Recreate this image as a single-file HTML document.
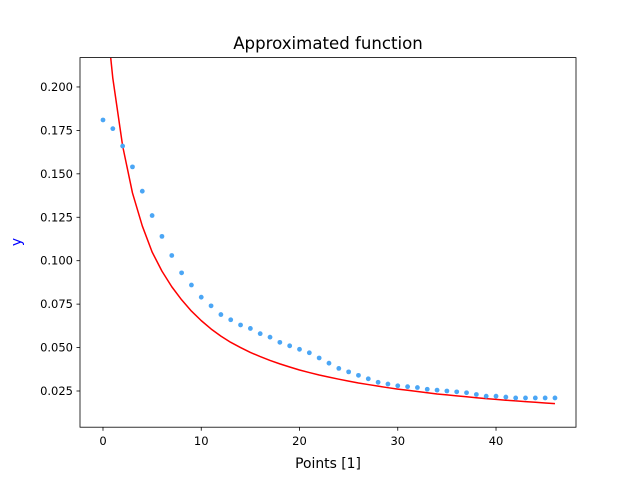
<!DOCTYPE html>
<html><head><meta charset="utf-8"><style>
body{margin:0;background:#fff;}
svg text{font-family:"DejaVu Sans","Liberation Sans",sans-serif;}
</style></head><body>
<svg id="chart" width="640" height="480" viewBox="0 0 640 480" xmlns="http://www.w3.org/2000/svg">
<rect width="640" height="480" fill="#fff"/>
<defs><clipPath id="clip"><rect x="80" y="57.6" width="496" height="369.6"/></clipPath></defs>
<text x="328" y="49" font-size="16.6" text-anchor="middle">Approximated function</text>
<g id="marks" clip-path="url(#clip)"></g>
<g id="axes"></g>
<rect x="80" y="57.6" width="496" height="369.6" fill="none" stroke="#000" stroke-width="0.8"/>
<text x="328" y="468" font-size="13.9" text-anchor="middle">Points [1]</text>
<text x="21" y="242" font-size="13.9" fill="#0000ff" text-anchor="middle" transform="rotate(-90 21 242)">y</text>
</svg>
<script>
const pointValues=[0.181,0.176,0.166,0.154,0.140,0.126,0.114,0.103,0.093,0.086,0.079,0.074,0.069,0.066,0.063,0.061,0.058,0.056,0.053,0.051,0.049,0.047,0.044,0.041,0.038,0.036,0.034,0.032,0.030,0.029,0.028,0.0275,0.027,0.026,0.0255,0.025,0.0245,0.024,0.023,0.022,0.022,0.0215,0.021,0.021,0.021,0.021,0.021];
const fitValues=[0.26,0.205,0.166,0.139,0.120,0.105,0.094,0.085,0.0775,0.0710,0.0655,0.0607,0.0566,0.053,0.050,0.0472,0.0448,0.0426,0.0406,0.0388,0.0371,0.0356,0.0342,0.0330,0.0318,0.0307,0.0296,0.0287,0.0278,0.0269,0.0261,0.0254,0.0247,0.0240,0.0233,0.0228,0.0222,0.0217,0.0211,0.0206,0.0202,0.0197,0.0193,0.0189,0.0185,0.0181,0.0177];
const xTicks=[0,10,20,30,40];
const yTicks=[0.025,0.050,0.075,0.100,0.125,0.150,0.175,0.200];
const yTickLabels=["0.025","0.050","0.075","0.100","0.125","0.150","0.175","0.200"];
const X0=80,X1=576,Y0=57.6,Y1=427.2;
const xmin=-2.34,xmax=48.14,ymin=0.00416,ymax=0.2169;
const sx=v=>X0+(v-xmin)/(xmax-xmin)*(X1-X0);
const sy=v=>Y1-(v-ymin)/(ymax-ymin)*(Y1-Y0);
const NS="http://www.w3.org/2000/svg";
const marks=document.getElementById('marks'),axes=document.getElementById('axes');
let d=fitValues.map((v,i)=>(i?'L':'M')+sx(i).toFixed(2)+','+sy(v).toFixed(2)).join('');
const line=document.createElementNS(NS,'path');
line.setAttribute('d',d);line.setAttribute('fill','none');line.setAttribute('stroke','#ff0000');line.setAttribute('stroke-width','1.5');line.setAttribute('stroke-linejoin','round');


marks.appendChild(line);
pointValues.forEach((v,i)=>{
const c=document.createElementNS(NS,'circle');
c.setAttribute('cx',sx(i));c.setAttribute('cy',sy(v));c.setAttribute('r','2.4');c.setAttribute('fill','#4ba6f5');


marks.appendChild(c);
});
xTicks.forEach(t=>{
const x=sx(t);
const l=document.createElementNS(NS,'line');
l.setAttribute('x1',x);l.setAttribute('x2',x);l.setAttribute('y1',Y1);l.setAttribute('y2',Y1+3.5);l.setAttribute('stroke','#000');l.setAttribute('stroke-width','0.8');


axes.appendChild(l);
const tx=document.createElementNS(NS,'text');
tx.setAttribute('x',x);tx.setAttribute('y',Y1+18);tx.setAttribute('font-size','11.5');tx.setAttribute('text-anchor','middle');tx.textContent=t;


axes.appendChild(tx);
});
yTicks.forEach((t,i)=>{
const y=sy(t);
const l=document.createElementNS(NS,'line');
l.setAttribute('x1',X0-3.5);l.setAttribute('x2',X0);l.setAttribute('y1',y);l.setAttribute('y2',y);l.setAttribute('stroke','#000');l.setAttribute('stroke-width','0.8');


axes.appendChild(l);
const tx=document.createElementNS(NS,'text');
tx.setAttribute('x',X0-7);tx.setAttribute('y',y+4);tx.setAttribute('font-size','11.5');tx.setAttribute('text-anchor','end');tx.textContent=yTickLabels[i];


axes.appendChild(tx);
});
</script>
</body></html>
